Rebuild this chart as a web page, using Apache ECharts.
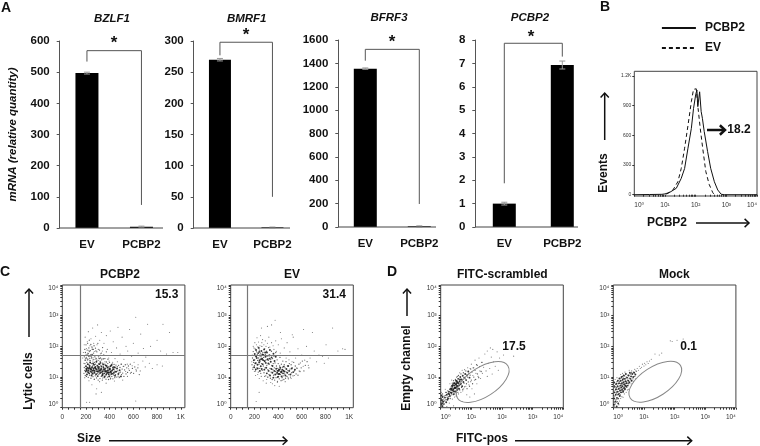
<!DOCTYPE html>
<html><head><meta charset="utf-8">
<style>html,body{margin:0;padding:0;background:#fff}#c{width:760px;height:446px;filter:blur(0.4px)}</style>
<script src="https://cdn.jsdelivr.net/npm/echarts@6/dist/echarts.min.js"></script>
</head><body><div id="c"></div>
<script>
const categories=['EV','PCBP2'];
const bzlf1Values=[497,4], bzlf1Errors=[3,2], bzlf1Bracket=[534,569,74];
const bmrf1Values=[270,1], bmrf1Errors=[2,0.5], bmrf1Bracket=[277,298,50];
const bfrf3Values=[1355,6], bfrf3Errors=[6,4], bfrf3Bracket=[1423,1520,197];
const pcbp2Values=[1.0,6.93], pcbp2Errors=[0.06,0.17], pcbp2Bracket=[1.87,7.86,7.29];

const histPcbp2=[[0,0],[0.5,2],[0.9,4],[1.0,8],[1.155,24],[1.37,65],[1.53,165],[1.64,265],[1.75,470],[1.86,670],[1.93,870],[2.0,1008],[2.04,1058],[2.07,890],[2.13,1040],[2.18,840],[2.22,772],[2.28,637],[2.39,435],[2.49,267],[2.61,131],[2.72,48],[2.83,5],[2.93,0],[4,0]];
const histEv=[[1.05,5],[1.26,48],[1.42,131],[1.53,265],[1.64,470],[1.75,700],[1.86,940],[1.93,1065],[2.02,1070],[2.08,870],[2.15,670],[2.23,470],[2.33,236],[2.44,105],[2.56,20],[2.61,0]];
const histTicks=[0,300,600,900,1200];
const histPct='18.2';

const lyticCorePcbp2=[[205,1.22],[212,1.3],[218,1.15],[224,1.27],[231,1.36],[238,1.18],[244,1.24],[251,1.32],[257,1.11],[263,1.28],[268,1.4],[274,1.2],[279,1.33],[285,1.09],[291,1.25],[296,1.37],[302,1.17],[308,1.29],[313,1.42],[319,1.13],[325,1.23],[331,1.34],[337,1.05],[342,1.19],[348,1.3],[354,1.12],[360,1.26],[366,1.38],[371,1.08],[377,1.2],[383,1.31],[389,1.15],[395,1.02],[401,1.24],[407,1.35],[413,1.1],[420,1.21],[428,1.3],[436,1.14],[445,1.04],[200,1.35],[208,1.08],[215,1.42],[227,1.12],[235,1.47],[247,1.05],[254,1.21],[260,1.44],[271,1.14],[282,1.27],[288,1.5],[299,1.03],[305,1.33],[316,1.2],[322,1.46],[334,1.16],[345,1.41],[351,1.24],[357,1.01],[368,1.17],[374,1.36],[386,1.22],[392,1.09],[398,1.28],[410,1.18],[416,1.39],[425,1.11],[433,1.25],[442,1.32],[452,1.17],[462,1.28],[473,1.1],[484,1.22],[495,1.02],[198,1.18],[206,1.26],[221,1.21],[229,1.3],[241,1.28],[249,1.16],[265,1.22],[276,1.3],[294,1.19],[310,1.23],[328,1.27],[340,1.1],[363,1.2],[380,1.14],[404,1.16]];
const lyticMidPcbp2=[[183,1.12],[186,1.31],[189,1.22],[191,1.44],[194,1.05],[196,1.55],[199,1.27],[202,1.63],[204,1.02],[207,1.48],[209,1.74],[213,1.19],[216,1.58],[219,0.99],[222,1.68],[225,1.4],[228,1.83],[230,1.06],[233,1.53],[236,1.25],[239,1.72],[242,0.96],[245,1.44],[248,1.62],[250,1.1],[253,1.9],[256,1.36],[259,1.01],[261,1.57],[264,1.78],[267,1.17],[270,0.93],[272,1.48],[275,1.66],[278,1.04],[281,1.42],[284,1.85],[287,1.19],[289,0.97],[292,1.55],[295,1.11],[298,1.3],[301,1.7],[303,0.9],[306,1.43],[309,1.09],[312,1.6],[315,1.33],[318,0.95],[320,1.51],[323,1.16],[326,1.38],[329,1.02],[332,1.56],[335,1.24],[338,0.9],[341,1.45],[344,1.07],[347,1.34],[350,1.6],[353,0.98],[356,1.19],[359,1.42],[362,1.04],[365,1.29],[369,0.93],[372,1.49],[375,1.12],[378,1.3],[381,1.0],[384,1.44],[387,1.16],[390,0.92],[393,1.34],[396,1.14],[399,1.48],[402,1.04],[405,1.27],[408,0.96],[411,1.37],[414,1.15],[418,1.02],[421,1.43],[424,1.24],[427,0.94],[430,1.34],[434,1.07],[437,1.41],[440,1.19],[443,0.98],[447,1.3],[450,1.08],[453,1.39],[457,1.18],[460,1.0],[464,1.34],[468,1.2],[471,1.03],[475,1.38],[479,1.14],[483,1.0],[487,1.31],[491,1.16],[496,1.42],[500,1.08],[505,1.26],[510,1.13],[515,1.35],[520,1.02],[526,1.23],[532,1.4],[538,1.1],[544,1.3],[551,1.15],[558,1.36],[566,1.22],[574,1.42],[582,1.15],[592,1.28],[602,1.12],[612,1.33],[625,1.2],[638,1.3],[650,1.08],[186,1.66],[190,1.9],[195,1.8],[200,2.05],[205,1.7],[210,1.88],[214,2.1],[219,1.76],[224,1.95],[228,2.2],[232,1.6],[237,1.86],[241,2.06],[246,1.66],[250,1.98],[255,1.74],[262,1.9],[268,2.02],[274,1.7],[280,1.94],[286,1.6],[292,1.82],[300,2.1],[307,1.66],[314,1.88],[322,1.62],[330,1.78],[340,1.96],[350,1.72],[360,1.6],[372,1.82],[385,1.58]];
const lyticSparsePcbp2=[[172,1.62],[178,1.8],[185,2.05],[190,1.55],[193,2.3],[198,1.72],[203,1.93],[207,1.6],[211,2.15],[216,1.78],[220,2.48],[225,1.87],[228,1.66],[233,2.02],[238,1.53],[242,2.25],[247,1.74],[252,1.95],[256,2.6],[260,1.63],[265,2.1],[270,1.83],[276,1.57],[281,2.33],[287,1.7],[293,2.05],[298,2.7],[304,1.9],[310,1.6],[316,2.2],[322,1.76],[330,2.45],[338,1.85],[345,1.58],[352,2.1],[362,1.7],[372,2.35],[380,1.9],[392,1.62],[405,2.5],[415,1.8],[430,2.15],[445,1.6],[458,1.95],[470,2.62],[488,1.75],[505,2.3],[520,1.58],[538,2.0],[552,1.85],[568,2.55],[585,1.68],[600,2.1],[620,2.95],[640,1.78],[662,2.4],[685,1.93],[705,1.65],[720,2.72],[745,2.0],[765,1.7],[800,2.2],[830,1.85],[850,2.72],[880,1.75],[905,2.45],[935,1.8],[975,1.8],[520,1.35],[535,1.18],[548,1.42],[560,1.27],[575,1.12],[590,1.37],[606,1.48],[622,1.25],[640,1.4],[658,1.2],[680,1.52],[700,1.33],[735,1.45],[760,1.28],[800,1.4],[845,1.36],[190,0.98],[225,0.88],[250,0.75],[270,0.92],[290,0.62],[315,0.85],[340,0.97],[370,0.8],[405,0.93],[440,0.87],[480,0.98],[510,0.9],[550,1.02],[205,0.18],[230,0.18],[620,0.22],[330,0.5],[285,0.45],[182,1.45],[195,1.6],[214,1.55],[236,1.68],[258,1.52],[283,1.62],[307,1.54],[335,1.6],[360,1.5],[395,1.52],[425,1.48],[465,1.5],[500,1.42]];

const lyticCoreEv=[[195,1.55],[203,1.75],[208,1.45],[214,1.88],[220,1.62],[226,1.4],[232,1.78],[237,1.95],[243,1.55],[248,1.7],[254,1.35],[259,1.85],[265,1.6],[270,1.42],[276,1.72],[282,1.9],[288,1.52],[294,1.66],[300,1.3],[306,1.8],[312,1.58],[318,1.44],[324,1.7],[331,1.88],[338,1.5],[345,1.64],[353,1.36],[361,1.76],[370,1.52],[380,1.66],[198,1.32],[212,1.25],[228,1.28],[246,1.2],[262,1.26],[284,1.24],[305,1.12],[320,1.2],[332,1.05],[344,1.26],[352,1.14],[360,0.98],[368,1.2],[376,1.08],[384,1.27],[392,1.14],[398,1.0],[405,1.22],[412,1.1],[418,1.3],[424,1.16],[430,1.02],[436,1.24],[442,1.12],[448,1.34],[455,1.18],[462,1.05],[470,1.26],[478,1.14],[486,1.36],[494,1.2],[504,1.08],[515,1.28],[528,1.16],[542,1.24],[215,1.68],[241,1.82],[267,1.74],[291,1.8],[240,1.48],[256,1.58],[274,1.55],[296,1.46],[328,1.6],[395,1.2],[410,1.24],[428,1.18],[445,1.2],[403,1.1]];
const lyticMidEv=[[180,1.4],[184,1.62],[187,1.25],[190,1.83],[193,1.48],[197,1.7],[200,1.38],[203,1.56],[206,1.92],[209,1.2],[212,1.66],[215,1.46],[218,1.82],[221,1.3],[224,1.74],[227,1.54],[230,1.98],[233,1.16],[236,1.62],[239,1.42],[242,1.88],[245,1.28],[248,1.5],[251,1.78],[254,1.12],[257,1.66],[260,1.44],[263,2.0],[266,1.22],[269,1.58],[272,1.8],[275,1.36],[278,1.64],[281,1.14],[284,1.5],[287,1.92],[290,1.3],[293,1.74],[296,1.04],[299,1.56],[302,1.84],[305,1.38],[308,1.68],[311,1.0],[314,1.24],[317,1.54],[320,1.96],[323,1.08],[326,1.42],[329,1.72],[332,1.28],[335,0.96],[338,1.58],[341,1.16],[344,1.84],[347,1.38],[350,0.92],[353,1.6],[356,1.24],[359,1.44],[362,1.06],[365,1.68],[368,1.3],[371,0.9],[374,1.46],[377,1.18],[380,1.8],[383,0.98],[386,1.36],[389,1.1],[392,1.56],[395,0.86],[398,1.28],[401,1.44],[404,1.02],[407,1.18],[410,0.94],[413,1.36],[416,1.64],[419,1.08],[422,1.26],[425,0.88],[428,1.42],[431,1.14],[434,0.98],[437,1.32],[440,1.52],[443,1.04],[446,1.22],[449,0.92],[452,1.4],[455,1.1],[459,1.3],[463,0.96],[467,1.5],[471,1.16],[475,1.02],[479,1.36],[483,1.22],[487,0.94],[491,1.08],[495,1.44],[500,1.26],[505,1.0],[510,1.4],[515,1.14],[520,1.3],[526,1.04],[532,1.48],[538,1.2],[545,1.36],[552,1.1],[560,1.28],[568,1.06],[576,1.42],[585,1.18],[595,1.3],[605,1.52],[618,1.2],[630,1.38],[645,1.5],[660,1.3]];
const lyticSparseEv=[[178,1.5],[182,1.72],[186,1.3],[190,2.0],[196,1.95],[200,1.18],[204,2.12],[210,1.05],[217,2.05],[222,2.28],[228,1.08],[235,2.14],[241,0.95],[247,2.02],[252,2.35],[258,1.02],[263,2.12],[269,2.22],[274,0.88],[280,2.05],[286,1.02],[292,2.18],[298,2.0],[304,0.92],[310,2.1],[316,1.0],[322,2.3],[330,1.98],[338,0.82],[345,2.12],[352,0.78],[358,2.02],[365,1.9],[372,0.72],[380,2.18],[386,1.84],[394,0.82],[402,2.05],[410,0.7],[418,1.78],[428,2.25],[436,0.9],[444,1.7],[452,1.95],[460,0.85],[468,1.62],[476,2.12],[484,0.98],[492,1.56],[500,1.82],[510,0.95],[518,1.5],[528,2.3],[538,1.05],[548,1.62],[558,1.3],[568,1.92],[578,1.2],[588,1.46],[600,1.72],[612,1.35],[625,1.55],[640,2.0],[655,1.38],[670,1.62],[690,2.45],[705,1.85],[725,1.5],[745,1.72],[775,1.68],[790,1.45],[805,2.05],[825,1.62],[860,2.6],[905,1.85],[945,1.92],[965,1.9],[240,0.5],[215,0.2],[300,0.8],[260,2.6],[310,2.65],[345,2.7],[375,2.85],[420,2.45],[520,2.38],[615,2.55]];

const fitcCoreScr=[[0.08,0.2],[0.14,0.33],[0.18,0.18],[0.2,0.42],[0.24,0.3],[0.27,0.52],[0.3,0.38],[0.32,0.62],[0.35,0.48],[0.37,0.72],[0.39,0.56],[0.42,0.44],[0.43,0.8],[0.45,0.64],[0.47,0.52],[0.48,0.76],[0.5,0.88],[0.52,0.68],[0.54,0.58],[0.55,0.82],[0.57,0.94],[0.59,0.72],[0.6,0.62],[0.62,0.86],[0.64,1.0],[0.66,0.78],[0.68,0.92],[0.7,0.7],[0.72,1.04],[0.74,0.84],[0.77,0.98],[0.8,1.1],[0.83,0.9],[0.86,1.06],[0.9,1.18],[0.94,0.98],[0.34,0.58],[0.38,0.68],[0.41,0.6],[0.44,0.72],[0.46,0.8],[0.49,0.64],[0.51,0.74],[0.53,0.86],[0.56,0.7],[0.58,0.8],[0.61,0.74],[0.63,0.92],[0.4,0.74],[0.36,0.62],[0.33,0.5],[0.28,0.44],[0.22,0.26],[0.25,0.46],[0.47,0.66],[0.43,0.54],[0.52,0.8],[0.55,0.62],[0.03,0.12],[0.04,0.25],[0.05,0.05],[0.06,0.35],[0.03,0.4],[0.07,0.15]];
const fitcMidScr=[[0.1,0.28],[0.12,0.12],[0.15,0.4],[0.17,0.26],[0.19,0.5],[0.21,0.34],[0.23,0.55],[0.26,0.36],[0.29,0.6],[0.31,0.3],[0.34,0.68],[0.36,0.42],[0.38,0.8],[0.4,0.5],[0.42,0.88],[0.44,0.62],[0.46,0.45],[0.48,0.92],[0.5,0.56],[0.52,1.0],[0.54,0.72],[0.56,0.5],[0.58,1.05],[0.6,0.84],[0.62,0.58],[0.64,0.76],[0.66,1.1],[0.68,0.66],[0.7,0.9],[0.72,0.6],[0.74,1.14],[0.76,0.8],[0.78,0.68],[0.8,0.94],[0.82,1.2],[0.84,0.78],[0.86,0.62],[0.88,1.0],[0.9,0.84],[0.92,1.12],[0.94,0.7],[0.96,1.06],[0.98,1.26],[1.0,0.9],[1.02,1.16],[1.04,0.78],[1.06,1.3],[1.08,1.0],[1.12,1.22],[1.14,0.92],[1.17,1.4],[1.2,1.1],[1.24,0.98],[1.27,1.34],[1.32,1.18],[1.35,1.48],[0.02,0.3],[0.02,0.18],[0.04,0.08],[0.05,0.22],[0.06,0.45],[0.09,0.1],[0.11,0.38],[0.13,0.22],[0.16,0.5],[0.01,0.24]];
const fitcSparseScr=[[0.02,0.5],[0.1,0.02],[0.15,0.6],[0.2,0.04],[0.28,0.15],[0.3,0.78],[0.36,0.9],[0.38,0.28],[0.45,0.35],[0.5,0.38],[0.55,1.02],[0.58,0.45],[0.62,1.14],[0.66,0.5],[0.7,1.22],[0.72,0.55],[0.75,0.62],[0.78,1.24],[0.82,0.7],[0.85,0.42],[0.88,1.3],[0.92,0.75],[0.96,1.28],[0.98,0.85],[1.0,1.42],[1.02,0.62],[1.05,1.05],[1.08,1.3],[1.1,0.9],[1.12,1.55],[1.15,1.12],[1.18,0.78],[1.2,1.38],[1.22,1.02],[1.25,1.62],[1.28,1.2],[1.3,0.95],[1.33,1.48],[1.36,1.12],[1.4,1.32],[1.44,1.75],[1.48,1.2],[1.52,1.02],[1.55,1.45],[1.6,1.28],[1.65,1.65],[1.68,1.1],[1.72,1.5],[1.78,1.35],[1.84,1.82],[1.88,1.22],[1.92,1.62],[2.05,1.72],[2.38,1.68],[1.52,1.85],[1.7,1.9],[1.62,1.95],[0.95,0.35],[1.1,0.45],[0.7,0.2],[0.42,0.06]];

const fitcCoreMock=[[0.02,0.1],[0.03,0.3],[0.04,0.5],[0.05,0.68],[0.03,0.82],[0.07,0.2],[0.08,0.42],[0.09,0.6],[0.1,0.78],[0.11,0.04],[0.12,0.32],[0.13,0.52],[0.14,0.7],[0.15,0.88],[0.16,0.14],[0.17,0.44],[0.18,0.62],[0.19,0.8],[0.2,0.95],[0.21,0.38],[0.22,0.56],[0.23,0.72],[0.24,0.88],[0.25,0.5],[0.26,0.66],[0.27,1.0],[0.28,0.8],[0.29,0.58],[0.3,0.7],[0.31,0.92],[0.32,0.52],[0.33,0.82],[0.34,1.05],[0.35,0.64],[0.36,0.76],[0.37,0.94],[0.38,0.6],[0.39,0.72],[0.4,0.86],[0.41,1.1],[0.42,0.7],[0.44,0.8],[0.45,0.98],[0.47,0.72],[0.49,0.88],[0.5,1.05],[0.52,0.82],[0.54,1.14],[0.56,0.94],[0.58,1.02],[0.6,0.88],[0.62,1.1],[0.65,1.0],[0.68,1.14],[0.72,1.08]];
const fitcMidMock=[[0.01,0.4],[0.02,0.55],[0.03,0.18],[0.04,0.72],[0.05,0.38],[0.06,0.12],[0.07,0.58],[0.08,0.76],[0.09,0.26],[0.1,0.48],[0.11,0.66],[0.12,0.85],[0.13,0.2],[0.14,0.42],[0.15,0.6],[0.16,0.78],[0.17,0.3],[0.18,0.52],[0.19,0.68],[0.2,0.46],[0.21,0.86],[0.22,0.64],[0.23,0.42],[0.24,0.78],[0.25,0.96],[0.26,0.58],[0.27,0.74],[0.28,0.5],[0.29,0.88],[0.3,1.02],[0.31,0.62],[0.32,0.76],[0.33,0.96],[0.34,0.56],[0.35,0.86],[0.36,0.68],[0.37,1.04],[0.38,0.8],[0.39,0.64],[0.4,0.94],[0.41,0.78],[0.42,1.0],[0.43,0.84],[0.44,0.66],[0.46,0.9],[0.48,1.06],[0.5,0.78],[0.52,0.96],[0.54,0.84],[0.56,1.1],[0.58,0.9],[0.6,1.14],[0.64,0.94],[0.66,1.16],[0.7,1.02],[0.74,1.2]];
const fitcSparseMock=[[0.01,0.2],[0.02,0.65],[0.04,0.05],[0.06,0.92],[0.1,0.18],[0.12,0.98],[0.15,0.28],[0.18,0.1],[0.2,0.22],[0.24,0.3],[0.24,1.08],[0.28,0.36],[0.32,0.34],[0.3,1.12],[0.36,0.45],[0.38,1.16],[0.42,0.5],[0.46,0.58],[0.5,0.6],[0.52,1.22],[0.58,0.78],[0.6,1.2],[0.66,0.86],[0.7,1.25],[0.72,0.94],[0.76,1.18],[0.78,1.28],[0.82,1.22],[0.85,1.35],[0.88,1.28],[0.92,1.32],[0.95,1.42],[1.0,1.36],[1.02,1.45],[1.06,1.4],[1.1,1.5],[1.14,1.44],[1.18,1.52],[1.24,1.58],[1.36,1.75],[1.5,1.72],[1.58,1.78],[1.86,2.18],[1.92,2.16],[2.08,2.2],[2.28,2.24]];

const F='"Liberation Sans",Arial,"DejaVu Sans",sans-serif';
const SUP=['\u2070','\u00B9','\u00B2','\u00B3','\u2074'];
const decadeTicks=[];
for(let d=0;d<4;d++){for(let k=1;k<10;k++){decadeTicks.push(d+Math.log10(k));}}
decadeTicks.push(4);
const decadeFmt=v=>'10'+SUP[Math.round(v)];

const grids=[],xAxes=[],yAxes=[],series=[],graphic=[],titles=[];
function txt(x,y,s,o={}){graphic.push({type:'text',x,y,silent:true,rotation:o.rot||0,z:50,style:{text:s,fontFamily:F,fontWeight:'bold',fontStyle:o.italic?'italic':'normal',fontSize:o.size||12,fill:'#111',align:'center',verticalAlign:'middle'}});}
function seg(x1,y1,x2,y2,w,c){graphic.push({type:'line',silent:true,z:50,shape:{x1,y1,x2,y2},style:{stroke:c,lineWidth:w}});}
function arrow(x1,y1,x2,y2,w,h){
 seg(x1,y1,x2,y2,w,'#111');
 const a=Math.atan2(y2-y1,x2-x1),b=0.75,L=h;
 graphic.push({type:'polyline',silent:true,z:50,shape:{points:[[x2-L*Math.cos(a-b),y2-L*Math.sin(a-b)],[x2,y2],[x2-L*Math.cos(a+b),y2-L*Math.sin(a+b)]]},style:{stroke:'#111',fill:'none',lineWidth:w}});
}
function title(s,cx,y,italic){titles.push({text:s,left:cx,top:y,padding:0,textAlign:'center',textVerticalAlign:'middle',textStyle:{fontFamily:F,fontWeight:'bold',fontStyle:italic?'italic':'normal',fontSize:italic?11.5:12,color:'#111'}});}

function barPanel(p){
 const i=grids.length;
 grids.push({left:p.left,top:p.top,width:p.width,height:p.height});
 xAxes.push({gridIndex:i,type:'category',data:categories,axisLine:{show:false},axisTick:{show:false},axisLabel:{margin:11,fontFamily:F,fontWeight:'bold',fontSize:11.5,color:'#111',interval:0}});
 yAxes.push({gridIndex:i,type:'value',min:0,max:p.max,interval:p.interval,name:p.yName||'',nameLocation:'middle',nameGap:p.nameGap||0,nameTextStyle:{fontFamily:F,fontWeight:'bold',fontStyle:'italic',fontSize:11.5,color:'#111'},splitLine:{show:false},axisLine:{show:true,lineStyle:{color:'#555',width:1}},axisTick:{show:true,length:3,inside:false,lineStyle:{color:'#555'}},axisLabel:{margin:10,formatter:v=>String(v),fontFamily:F,fontWeight:'bold',fontSize:11.5,color:'#111'}});
 series.push({type:'bar',xAxisIndex:i,yAxisIndex:i,data:p.values,barWidth:p.barWidth||23,itemStyle:{color:'#000'},silent:true});
 series.push({type:'custom',xAxisIndex:i,yAxisIndex:i,silent:true,z:5,data:p.values.map((v,j)=>[j,v,p.errors[j]]),encode:{x:0,y:1},
  renderItem:(params,api)=>{
   const c=api.value(0),v=api.value(1),e=api.value(2);
   const a=api.coord([c,v-e]),b=api.coord([c,v+e]);
   const st={stroke:'#999',lineWidth:1};
   return {type:'group',children:[
    {type:'line',shape:{x1:a[0],y1:a[1],x2:b[0],y2:b[1]},style:st},
    {type:'line',shape:{x1:a[0]-3,y1:a[1],x2:a[0]+3,y2:a[1]},style:st},
    {type:'line',shape:{x1:b[0]-3,y1:b[1],x2:b[0]+3,y2:b[1]},style:st}]};
  }});
 const br=p.bracket;
 series.push({type:'line',xAxisIndex:i,yAxisIndex:i,silent:true,symbol:'none',z:6,lineStyle:{color:'#555',width:1},data:[[categories[0],br[0]],[categories[0],br[1]],[categories[1],br[1]],[categories[1],br[2]]]});
 seg(p.left,p.top+p.height,p.axisEnd,p.top+p.height,1,'#444');
 title(p.name,p.tx,p.ty,true);
 txt(p.sx,p.sy,'*',{size:17});
}
barPanel({name:'BZLF1',values:bzlf1Values,errors:bzlf1Errors,bracket:bzlf1Bracket,max:600,interval:100,left:59.7,top:41,width:109,height:187,axisEnd:163,tx:112,ty:19,sx:114,sy:43,yName:'mRNA (relative quantity)',nameGap:41});
barPanel({name:'BMRF1',values:bmrf1Values,errors:bmrf1Errors,bracket:bmrf1Bracket,max:300,interval:50,left:193.7,top:41,width:105,height:187,axisEnd:290,tx:246.7,ty:19,sx:246,sy:35,barWidth:22});
barPanel({name:'BFRF3',values:bfrf3Values,errors:bfrf3Errors,bracket:bfrf3Bracket,max:1600,interval:200,left:338.3,top:40,width:108,height:187,axisEnd:436,tx:389,ty:18,sx:392,sy:42});
barPanel({name:'PCBP2',values:pcbp2Values,errors:pcbp2Errors,bracket:pcbp2Bracket,max:8,interval:1,left:475.3,top:40,width:116,height:187,axisEnd:578,tx:530,ty:18,sx:531,sy:37});

const smallLabel={fontFamily:F,fontSize:6.5,color:'#333'};
function frameAxis(i,cfg){
 return {gridIndex:i,type:'value',min:cfg.min,max:cfg.max,splitLine:{show:false},axisLine:{show:false},
  axisTick:{show:true,length:2,customValues:cfg.ticks,lineStyle:{color:'#333',width:1}},
  axisLabel:Object.assign({margin:cfg.margin,customValues:cfg.labels,formatter:cfg.fmt},smallLabel,cfg.extra||{})};
}
function frameGrid(left,top,width,height){
 const i=grids.length;
 grids.push({left,top,width,height,show:true,borderColor:'#444',borderWidth:1,backgroundColor:'transparent'});
 return i;
}
const DEC={min:0,max:4,ticks:decadeTicks,labels:[0,1,2,3,4],fmt:decadeFmt};
function scatterPanel(p){
 const i=frameGrid(p.left,285,122.6,122.7);
 xAxes.push(frameAxis(i,p.xAxis));
 yAxes.push(frameAxis(i,Object.assign({},DEC,{margin:4,extra:{verticalAlignMaxLabel:'top',verticalAlignMinLabel:'bottom'}})));
 series.push({type:'scatter',xAxisIndex:i,yAxisIndex:i,silent:true,symbolSize:1.1,itemStyle:{color:'#555'},data:p.sparse,z:2,
  markLine:p.lines?{silent:true,symbol:'none',animation:false,label:{show:false},lineStyle:{color:'#777',width:1.2,type:'solid'},data:[{xAxis:p.lines[0]},{yAxis:p.lines[1]}]}:undefined});
 series.push({type:'scatter',xAxisIndex:i,yAxisIndex:i,silent:true,symbolSize:1.3,itemStyle:{color:'#333'},data:p.mid,z:3});
 series.push({type:'scatter',xAxisIndex:i,yAxisIndex:i,silent:true,symbolSize:1.9,itemStyle:{color:'#111',opacity:0.85},data:p.core,z:4});
 title(p.name,p.tx,275,false);
 txt(p.vx,p.vy,p.pct,{size:12});
}
const SIZE={min:0,max:1035,ticks:[0,50,100,150,200,250,300,350,400,450,500,550,600,650,700,750,800,850,900,950,1000],labels:[0,200,400,600,800,1000],fmt:v=>v===1000?'1K':String(v),margin:6};
const DECX=Object.assign({},DEC,{margin:6,extra:{alignMinLabel:'left',alignMaxLabel:'right'}});
scatterPanel({name:'PCBP2',left:62.3,xAxis:SIZE,core:lyticCorePcbp2,mid:lyticMidPcbp2,sparse:lyticSparsePcbp2,lines:[150,1.72],tx:120,pct:'15.3',vx:166.7,vy:295});
scatterPanel({name:'EV',left:230.7,xAxis:SIZE,core:lyticCoreEv,mid:lyticMidEv,sparse:lyticSparseEv,lines:[143,1.72],tx:292,pct:'31.4',vx:334.3,vy:295});
scatterPanel({name:'FITC-scrambled',left:440.7,xAxis:DECX,core:fitcCoreScr,mid:fitcMidScr,sparse:fitcSparseScr,tx:502.3,pct:'17.5',vx:514,vy:347});
scatterPanel({name:'Mock',left:613.3,xAxis:DECX,core:fitcCoreMock,mid:fitcMidMock,sparse:fitcSparseMock,tx:674.3,pct:'0.1',vx:688.7,vy:347});

// histogram
{
 const i=frameGrid(634.3,71.3,123.7,124.7);
 xAxes.push(frameAxis(i,DECX));
 yAxes.push(frameAxis(i,{min:-13,max:1247,ticks:histTicks,labels:histTicks,fmt:v=>v===1200?'1.2K':String(v),margin:3,extra:{fontSize:5}}));
 series.push({name:'EV',type:'line',xAxisIndex:i,yAxisIndex:i,silent:true,symbol:'none',itemStyle:{color:'#111'},lineStyle:{color:'#111',width:1,type:[4,3]},data:histEv,z:3});
 series.push({name:'PCBP2',type:'line',xAxisIndex:i,yAxisIndex:i,silent:true,symbol:'none',itemStyle:{color:'#111'},lineStyle:{color:'#111',width:1},data:histPcbp2,z:3});
 arrow(707,130,725,130,2.5,7);
 txt(739,130,histPct,{size:12});
}

// gates
[[482.7,382],[655.3,381.7]].forEach(c=>graphic.push({type:'ellipse',silent:true,z:40,x:c[0],y:c[1],rotation:33*Math.PI/180,shape:{cx:0,cy:0,rx:30,ry:14.7},style:{stroke:'#888',fill:'none',lineWidth:1}}));

// panel letters & axis captions
txt(6,8,'A',{size:14});txt(605,7,'B',{size:14});txt(5,272,'C',{size:14});txt(392,272,'D',{size:14});
txt(604,173,'Events',{size:12,rot:Math.PI/2});arrow(604.7,140,604.7,93,1.5,6);
txt(667,223,'PCBP2',{size:12});arrow(696,223,749,223,1.5,6);
txt(29,381,'Lytic cells',{size:12,rot:Math.PI/2});arrow(29,337,29,289,1.5,6);
txt(89,439,'Size',{size:12});arrow(109,440.7,287,440.7,1.5,6);
txt(406.7,368,'Empty channel',{size:12,rot:Math.PI/2});arrow(407,316,407,289,1.5,6);
txt(482,439,'FITC-pos',{size:12});arrow(515,440.7,691.7,440.7,1.5,6);

const chart=echarts.init(document.getElementById('c'),null,{renderer:'canvas'});
chart.setOption({animation:false,backgroundColor:'#fff',textStyle:{fontFamily:F},title:titles,
 legend:{left:661,top:22,orient:'vertical',padding:0,itemWidth:34,itemHeight:12,itemGap:8,selectedMode:false,data:['PCBP2','EV'],itemStyle:{opacity:0},lineStyle:{width:1.8},textStyle:{fontFamily:F,fontWeight:'bold',fontSize:12,color:'#111',padding:[0,0,0,4]}},
 grid:grids,xAxis:xAxes,yAxis:yAxes,series,graphic:{elements:graphic}});
</script></body></html>
